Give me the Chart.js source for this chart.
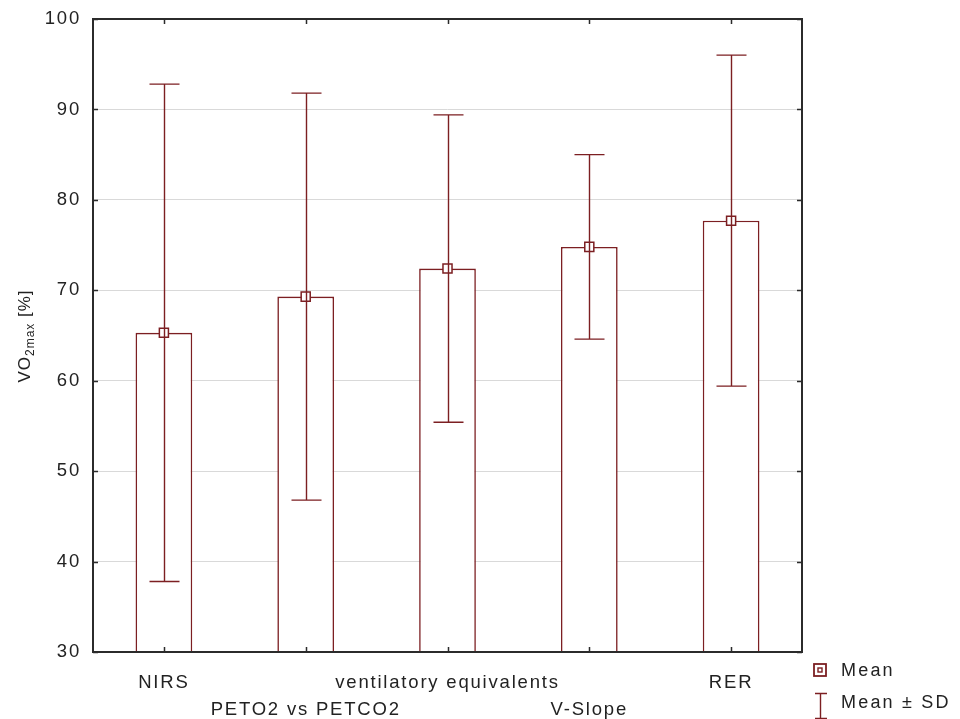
<!DOCTYPE html>
<html>
<head>
<meta charset="utf-8">
<script src="https://cdn.jsdelivr.net/npm/chart.js@4/dist/chart.umd.min.js"></script>
<style>
  html, body { margin: 0; padding: 0; background: #fff; }
  #wrap { width: 960px; height: 719px; }
</style>
</head>
<body>
<div id="wrap"><canvas id="chart" width="960" height="719"></canvas></div>
<script>
// data
const categories = ["NIRS", "PETO2 vs PETCO2", "ventilatory equivalents", "V-Slope", "RER"];
const means = [65.3, 69.3, 72.4, 74.8, 77.7];
const sds = [27.5, 22.5, 17.0, 10.2, 18.3];
const yTicks = [30, 40, 50, 60, 70, 80, 90, 100];

const red = "#7c1f22";
const frame = "#2b2b2b";
const font = "'Liberation Sans', Arial, sans-serif";

// staggered category labels (odd ones drop to second row)
const xLabels = categories.map((c, i) => (i % 2 === 0 ? [c, ""] : ["", c]));

// the original text is drawn a bit spread out
const spacing = {
  id: "spacing",
  beforeDraw(chart) { chart.ctx.letterSpacing = "1.8px"; }
};

// frame, inward ticks, error bars, axis title, legend
const decorations = {
  id: "decorations",
  afterDatasetsDraw(chart) {
    const { ctx, chartArea: a, scales } = chart;
    const x = scales.x, y = scales.y;
    ctx.save();

    // error bars
    ctx.strokeStyle = red;
    ctx.lineWidth = 1.4;
    means.forEach((m, i) => {
      const px = Math.round(x.getPixelForValue(i)) + 0.5;
      const top = y.getPixelForValue(m + sds[i]);
      const bot = y.getPixelForValue(m - sds[i]);
      ctx.beginPath();
      ctx.moveTo(px, top); ctx.lineTo(px, bot);
      ctx.moveTo(px - 15, top); ctx.lineTo(px + 15, top);
      ctx.moveTo(px - 15, bot); ctx.lineTo(px + 15, bot);
      ctx.stroke();
    });

    // frame
    ctx.strokeStyle = frame;
    ctx.lineWidth = 2;
    ctx.strokeRect(a.left, a.top, a.right - a.left, a.bottom - a.top);

    // inward ticks
    ctx.lineWidth = 1.5;
    ctx.beginPath();
    yTicks.forEach(v => {
      const py = Math.round(y.getPixelForValue(v)) + 0.5;
      ctx.moveTo(a.left, py); ctx.lineTo(a.left + 5, py);
      ctx.moveTo(a.right, py); ctx.lineTo(a.right - 5, py);
    });
    categories.forEach((c, i) => {
      const px = Math.round(x.getPixelForValue(i)) + 0.5;
      ctx.moveTo(px, a.bottom); ctx.lineTo(px, a.bottom - 5);
      ctx.moveTo(px, a.top); ctx.lineTo(px, a.top + 5);
    });
    ctx.stroke();

    // y axis title: VO2max [%]
    ctx.fillStyle = "#222";
    ctx.letterSpacing = "1px";
    ctx.translate(30, 336);
    ctx.rotate(-Math.PI / 2);
    ctx.textBaseline = "alphabetic";
    const big = "17px " + font, small = "12px " + font;
    ctx.font = big; const w1 = ctx.measureText("VO").width;
    ctx.font = small; const w2 = ctx.measureText("2max").width;
    ctx.font = big; const w3 = ctx.measureText(" [%]").width;
    let sx = -(w1 + w2 + w3) / 2;
    ctx.font = big; ctx.fillText("VO", sx, 0); sx += w1;
    ctx.font = small; ctx.fillText("2max", sx, 4); sx += w2;
    ctx.font = big; ctx.fillText(" [%]", sx, 0);
    ctx.setTransform(1, 0, 0, 1, 0, 0);

    // legend
    ctx.letterSpacing = "2.2px";
    ctx.font = "18px " + font;
    ctx.fillStyle = "#222";
    ctx.textBaseline = "middle";
    ctx.strokeStyle = red;
    ctx.lineWidth = 1.8;
    ctx.strokeRect(814, 664, 12, 12);
    ctx.lineWidth = 1.4;
    ctx.strokeRect(818, 668, 4, 4);
    ctx.fillText("Mean", 841, 671);
    ctx.beginPath();
    ctx.moveTo(815, 693.5); ctx.lineTo(827, 693.5);
    ctx.moveTo(820.5, 693.5); ctx.lineTo(820.5, 719);
    ctx.moveTo(815, 718.5); ctx.lineTo(827, 718.5);
    ctx.stroke();
    ctx.fillText("Mean \u00b1 SD", 841, 703);
    ctx.restore();
  }
};

new Chart(document.getElementById("chart"), {
  data: {
    labels: xLabels,
    datasets: [
      {
        type: "line",
        label: "Mean",
        data: means,
        showLine: false,
        pointStyle: "rect",
        pointRadius: 6.4,
        pointBorderWidth: 1.5,
        pointBackgroundColor: "#fff",
        pointBorderColor: red,
        order: 0
      },
      {
        type: "bar",
        label: "bars",
        data: means,
        base: 30,
        backgroundColor: "#fff",
        borderColor: red,
        borderWidth: 1.6,
        barPercentage: 0.4,
        categoryPercentage: 1,
        order: 1
      }
    ]
  },
  options: {
    responsive: false,
    animation: false,
    events: [],
    layout: { padding: { top: 19, right: 158, left: 0, bottom: 0 } },
    plugins: { legend: { display: false }, tooltip: { enabled: false } },
    scales: {
      x: {
        grid: { display: false },
        border: { display: false },
        ticks: {
          color: "#222",
          font: { family: font, size: 18.5, lineHeight: 1.46 },
          maxRotation: 0,
          autoSkip: false,
          padding: 9
        },
        afterFit(s) { s.height = 67; s.paddingLeft = 0; s.paddingRight = 0; }
      },
      y: {
        min: 30,
        max: 100,
        afterBuildTicks(s) { s.ticks = yTicks.map(v => ({ value: v })); },
        grid: {
          color: c => (c.tick.value === 30 || c.tick.value === 100 ? "rgba(0,0,0,0)" : "#d9d9d9"),
          drawTicks: false,
          lineWidth: 1
        },
        border: { display: false },
        ticks: {
          color: "#222",
          font: { family: font, size: 18.5 },
          padding: 12
        },
        afterFit(s) { s.width = 93; s.paddingTop = 0; s.paddingBottom = 0; }
      }
    }
  },
  plugins: [spacing, decorations]
});
</script>
</body>
</html>
